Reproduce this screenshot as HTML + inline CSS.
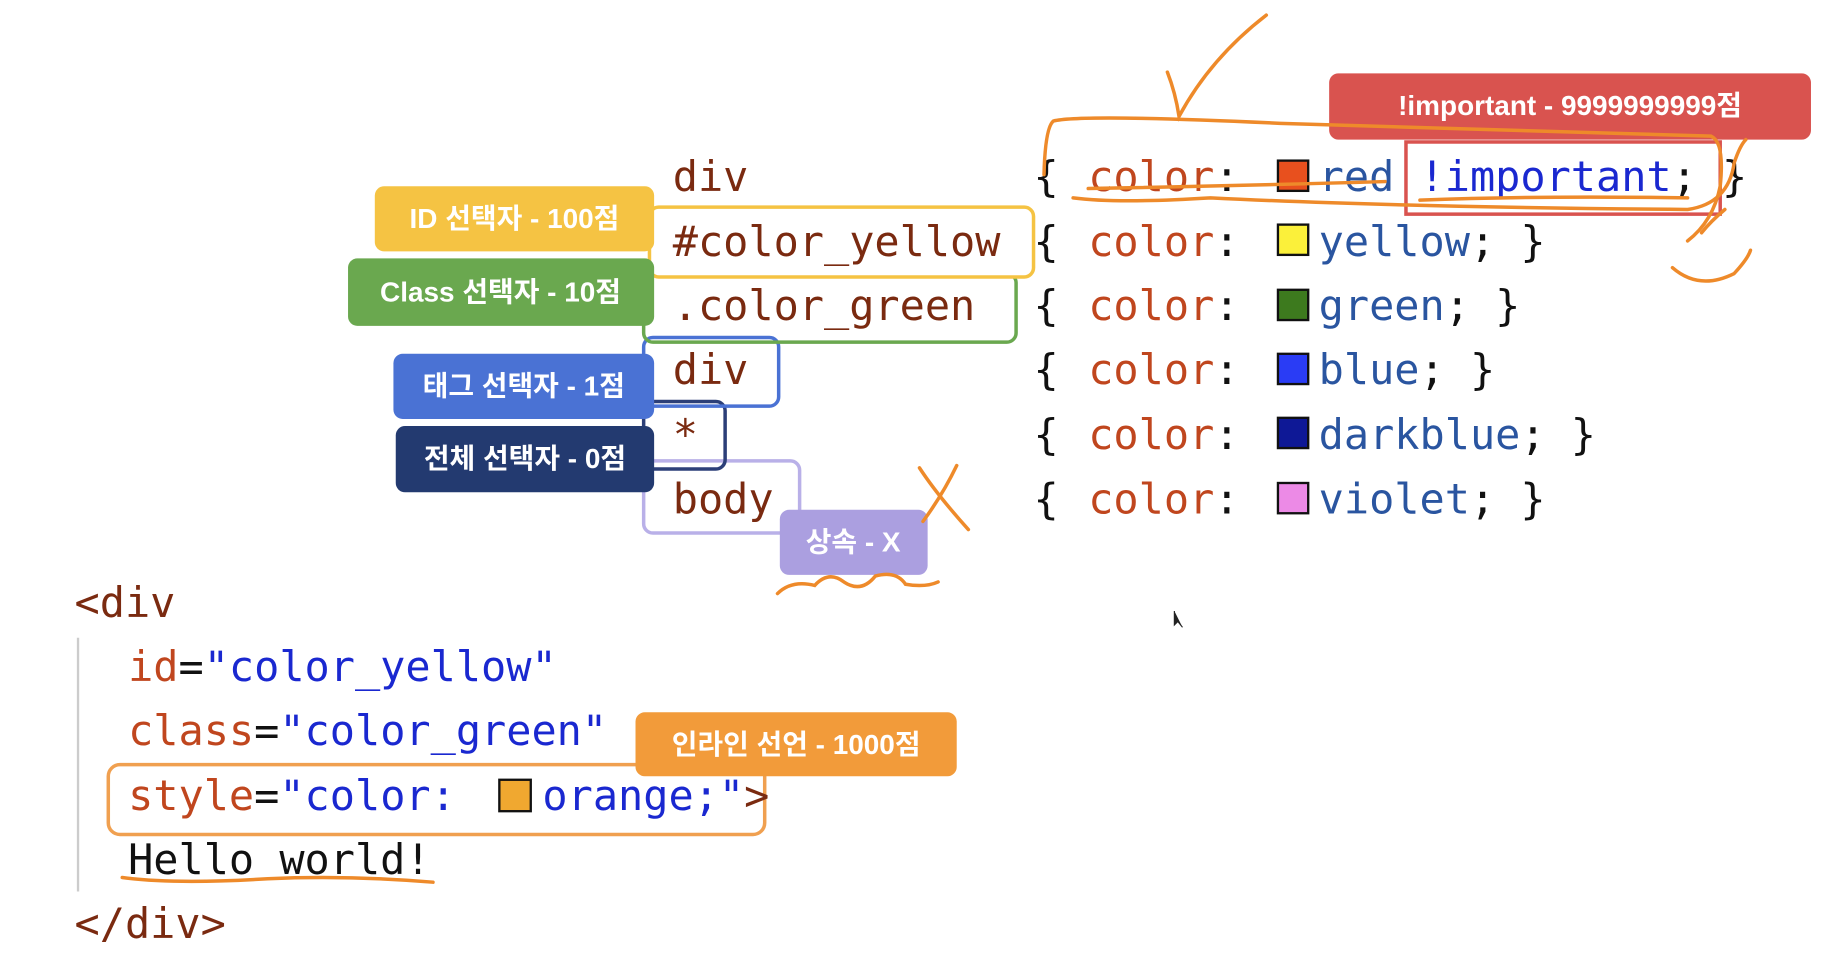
<!DOCTYPE html>
<html><head><meta charset="utf-8"><style>
html,body{margin:0;padding:0;background:#fff;}
svg{display:block}
.m{font-family:"DejaVu Sans Mono","Liberation Mono",monospace;font-size:36px}
.b{font-family:"Liberation Sans","Noto Sans CJK KR",sans-serif;font-weight:bold;font-size:24px;fill:#fff}
</style></head><body>
<svg width="1825" height="959" viewBox="0 0 1568 824" xmlns="http://www.w3.org/2000/svg">
<rect width="1568" height="824" fill="#fff"/>
<!-- selector outline boxes -->
<rect x="553" y="396" width="134" height="62" rx="8" fill="none" stroke="#b9b0e8" stroke-width="3"/>
<rect x="553" y="345" width="70" height="58" rx="8" fill="none" stroke="#2c3f78" stroke-width="3"/>
<rect x="553" y="290" width="116" height="59" rx="8" fill="none" stroke="#4a72d4" stroke-width="3"/>
<rect x="553" y="235" width="320" height="59" rx="8" fill="none" stroke="#6aa84f" stroke-width="3"/>
<rect x="558" y="178" width="330" height="60" rx="8" fill="#fff" stroke="#f5c343" stroke-width="3"/>
<!-- badges -->
<rect x="322" y="160" width="240" height="56" rx="8" fill="#f5c343"/>
<text x="442" y="196" text-anchor="middle" class="b">ID 선택자 - 100점</text>
<rect x="299" y="222" width="263" height="58" rx="8" fill="#6aa84f"/>
<text x="430" y="259" text-anchor="middle" class="b">Class 선택자 - 10점</text>
<rect x="338" y="304" width="224" height="56" rx="8" fill="#4a72d4"/>
<text x="450" y="340" text-anchor="middle" class="b">태그 선택자 - 1점</text>
<rect x="340" y="366" width="222" height="57" rx="8" fill="#233a70"/>
<text x="451" y="402" text-anchor="middle" class="b">전체 선택자 - 0점</text>
<rect x="670" y="438" width="127" height="56" rx="8" fill="#ab9fe0"/>
<text x="733" y="474" text-anchor="middle" class="b">상속 - X</text>
<rect x="1142" y="63" width="414" height="57" rx="8" fill="#d9534f"/>
<text x="1349" y="99" text-anchor="middle" class="b">!important - 9999999999점</text>
<!-- selectors -->
<g class="m" fill="#7a2a10">
<text x="578" y="164">div</text>
<text x="578" y="220">#color_yellow</text>
<text x="578" y="275">.color_green</text>
<text x="578" y="330">div</text>
<text x="578" y="386">*</text>
<text x="578" y="441">body</text>
</g>
<!-- declarations -->
<g class="m">
<text x="888" y="164"><tspan fill="#111">{</tspan><tspan x="935" fill="#c0461e">color</tspan><tspan fill="#111">:</tspan></text>
<text x="888" y="220"><tspan fill="#111">{</tspan><tspan x="935" fill="#c0461e">color</tspan><tspan fill="#111">:</tspan></text>
<text x="888" y="275"><tspan fill="#111">{</tspan><tspan x="935" fill="#c0461e">color</tspan><tspan fill="#111">:</tspan></text>
<text x="888" y="330"><tspan fill="#111">{</tspan><tspan x="935" fill="#c0461e">color</tspan><tspan fill="#111">:</tspan></text>
<text x="888" y="386"><tspan fill="#111">{</tspan><tspan x="935" fill="#c0461e">color</tspan><tspan fill="#111">:</tspan></text>
<text x="888" y="441"><tspan fill="#111">{</tspan><tspan x="935" fill="#c0461e">color</tspan><tspan fill="#111">:</tspan></text>
<text x="1133" y="164" fill="#2a55a0">red <tspan fill="#1a28d0">!important</tspan><tspan fill="#111">; }</tspan></text>
<text x="1133" y="220" fill="#2a55a0">yellow<tspan fill="#111">; }</tspan></text>
<text x="1133" y="275" fill="#2a55a0">green<tspan fill="#111">; }</tspan></text>
<text x="1133" y="330" fill="#2a55a0">blue<tspan fill="#111">; }</tspan></text>
<text x="1133" y="386" fill="#2a55a0">darkblue<tspan fill="#111">; }</tspan></text>
<text x="1133" y="441" fill="#2a55a0">violet<tspan fill="#111">; }</tspan></text>
</g>
<g stroke="#111" stroke-width="2">
<rect x="1098" y="138" width="26" height="26" fill="#e8501e"/>
<rect x="1098" y="193" width="26" height="26" fill="#fbf03a"/>
<rect x="1098" y="249" width="26" height="26" fill="#3d7a1e"/>
<rect x="1098" y="304" width="26" height="26" fill="#2a3cf5"/>
<rect x="1098" y="359" width="26" height="26" fill="#0e1896"/>
<rect x="1098" y="415" width="26" height="26" fill="#ec8ae6"/>
</g>
<rect x="1208" y="122" width="270" height="62" fill="none" stroke="#d9534f" stroke-width="3"/>
<!-- bottom code -->
<line x1="67" y1="548" x2="67" y2="766" stroke="#ccc" stroke-width="2"/>
<rect x="93" y="657" width="564" height="60" rx="10" fill="none" stroke="#f0a050" stroke-width="3"/>
<rect x="546" y="612" width="276" height="55" rx="8" fill="#f29b3a"/>
<text x="684" y="648" text-anchor="middle" class="b">인라인 선언 - 1000점</text>
<g class="m">
<text x="64" y="530" fill="#7a2a10">&lt;div</text>
<text x="110" y="585"><tspan fill="#c0461e">id</tspan><tspan fill="#111">=</tspan><tspan fill="#1a28d0">"color_yellow"</tspan></text>
<text x="110" y="640"><tspan fill="#c0461e">class</tspan><tspan fill="#111">=</tspan><tspan fill="#1a28d0">"color_green"</tspan></text>
<text x="110" y="696"><tspan fill="#c0461e">style</tspan><tspan fill="#111">=</tspan><tspan fill="#1a28d0">"color: </tspan></text>
<text x="466" y="696" fill="#1a28d0">orange;"<tspan fill="#7a2a10">&gt;</tspan></text>
<text x="110" y="751" fill="#111">Hello world!</text>
<text x="64" y="806" fill="#7a2a10">&lt;/div&gt;</text>
</g>
<rect x="429" y="670" width="27" height="27" fill="#f0a830" stroke="#111" stroke-width="2"/>
<!-- hand drawn strokes -->
<g fill="none" stroke="#ee8a2a" stroke-width="3" stroke-linecap="round">
<path d="M1003 62 Q1010 80 1013 100 Q1040 50 1088 13"/>
<path d="M897 150 Q898 110 905 104 Q930 98 1100 106 L1470 117 Q1482 122 1478 160 Q1472 190 1450 207"/>
<path d="M922 170 Q960 175 1040 170 Q1200 178 1450 180 Q1485 175 1490 140 Q1495 125 1500 120"/>
<path d="M935 162 Q1050 160 1190 156"/>
<path d="M1220 172 Q1320 168 1450 170"/>
<path d="M1462 200 Q1470 190 1482 180"/>
<path d="M1437 230 Q1460 250 1490 235 Q1502 222 1504 215"/>
<path d="M790 402 Q805 425 832 455"/>
<path d="M822 400 Q810 425 793 448"/>
<path d="M668 510 Q680 498 700 503 Q712 490 725 500 Q740 510 752 495 Q770 490 778 502 Q795 505 806 500"/>
<path d="M105 754 Q150 760 230 755 Q300 752 372 758"/>
</g>
<path d="M1009 525 L1009 537 L1012 534 L1016 539" fill="#222" stroke="#222" stroke-width="1"/>
</svg>
</body></html>
